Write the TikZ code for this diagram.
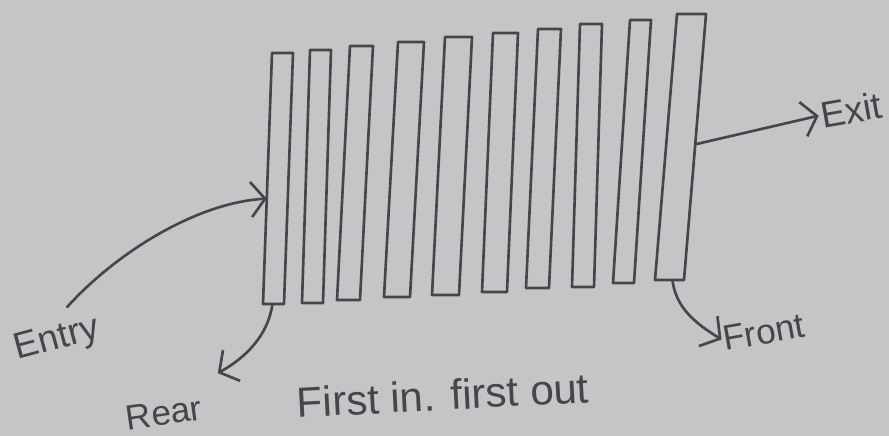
\documentclass[tikz,border=0pt]{standalone}
\usepackage{fontspec}
\setmainfont{Liberation Sans}
\usepackage{tikz}
\usetikzlibrary{arrows.meta,calc}
\definecolor{paper}{RGB}{197,196,198}
\definecolor{pencil}{RGB}{70,70,74}

\begin{document}
\begin{tikzpicture}[
  x=0.02cm, y=0.02cm,
  bar/.style={draw=pencil, line width=1.5pt, line join=round},
  arr/.style={-{Straight Barb[length=8pt,width=20pt]}, draw=pencil, line width=1.5pt, line cap=round},
  lbl/.style={text=pencil, inner sep=1pt, font=\fontsize{21}{24}\selectfont},
]
\fill[paper] (0,0) rectangle (889,436);

\foreach \i/\tx/\ty/\bx/\by/\w in {1/272/383/263/132/21, 2/310/386/302/133/21,
    3/350/390/337/136/23, 4/398/394/384/139/26, 5/445/399/432/141/27,
    6/493/403/482/144/25, 7/538/407/526/148/23, 8/580/412/572/149/22,
    9/630/416/613/153/21, 10/677/422/655/156/29}{
  \coordinate (b\i-tl) at (\tx,\ty);
  \coordinate (b\i-tr) at (\tx+\w,\ty);
  \coordinate (b\i-bl) at (\bx,\by);
  \coordinate (b\i-br) at (\bx+\w,\by);
  \draw[bar] (b\i-tl) -- (b\i-tr) -- (b\i-br) -- (b\i-bl) -- cycle;
}

\node[lbl, rotate=15] (entry) at (57,96) {Entry};
\node[lbl, rotate=8, font=\fontsize{20}{24}\selectfont] (rear) at (164,23) {Rear};
\node[lbl, rotate=10] (exitlbl) at (851,326) {Exit};
\node[lbl, rotate=10, font=\fontsize{20}{24}\selectfont] (front) at (764,104) {Front};
\node[lbl, rotate=3, font=\fontsize{24}{28}\selectfont] (fifo) at (443,41) {First in. first out};

\draw[arr] ([xshift=0.3cm,yshift=0.3cm]entry.north) .. controls (115,182) and (195,233) .. ($(b1-bl)!0.42!(b1-tl)$);
\draw[arr] ($(b1-bl)!0.45!(b1-br)$) .. controls (268,100) and (245,78) .. ([shift={(16,20)}]rear.north east);
\draw[arr] ($(b10-br)!0.51!(b10-tr)$) -- (exitlbl.west);
\draw[arr] ($(b10-bl)!0.6!(b10-br)$) .. controls (676,128) and (695,113) .. (front.west);
\end{tikzpicture}
\end{document}
